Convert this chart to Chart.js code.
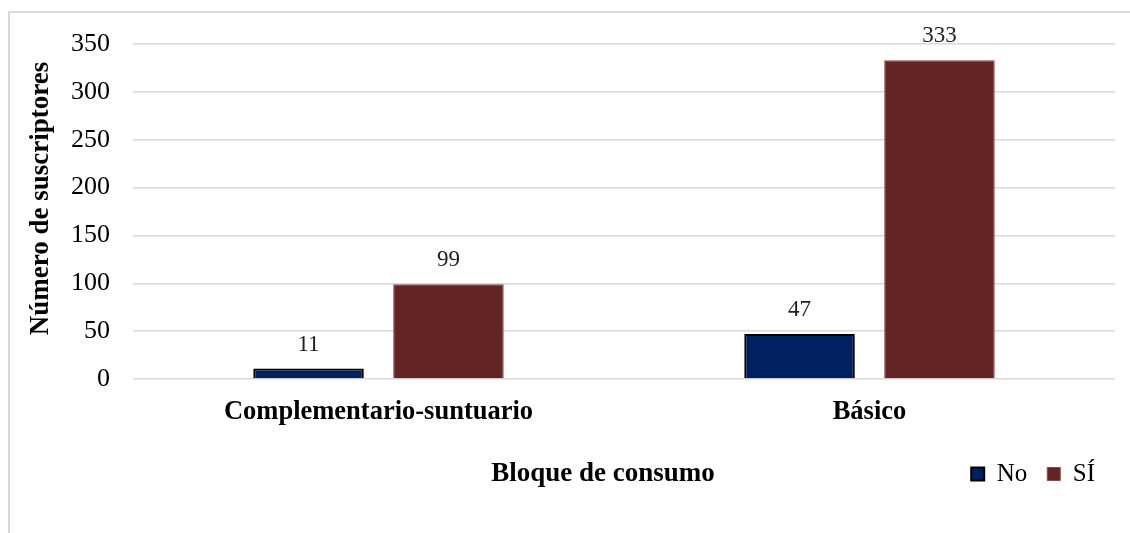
<!DOCTYPE html>
<html>
<head>
<meta charset="utf-8">
<script src="https://cdn.jsdelivr.net/npm/chart.js@4/dist/chart.umd.min.js"></script>
<style>
  html, body { margin: 0; padding: 0; background: #fff; }
  #wrap { position: relative; width: 1130px; height: 533px; overflow: hidden; }
  #frame { position: absolute; left: 8px; top: 11px; width: 1200px; height: 600px;
           border-left: 2px solid #d9d9d9; border-top: 2px solid #d9d9d9; }
  canvas { position: absolute; left: 0; top: 0; }
</style>
</head>
<body>
<div id="wrap">
  <div id="frame"></div>
  <canvas id="chart" width="1130" height="533"></canvas>
</div>
<script>
// Bloques de consumo y suscriptores por respuesta
const categories = ['Complementario-suntuario', 'Básico'];
const seriesNo = [11, 47];
const seriesSi = [99, 333];
const yTicks = [0, 50, 100, 150, 200, 250, 300, 350];

const FONT = "'Liberation Serif', 'Times New Roman', serif";
const LEGEND_SIZE = 25;

// Etiquetas de valor encima de cada barra
const valueLabels = {
  id: 'valueLabels',
  afterDatasetsDraw(chart) {
    const ctx = chart.ctx;
    ctx.save();
    ctx.font = '23px ' + FONT;
    ctx.fillStyle = '#1f1f1f';
    ctx.textAlign = 'center';
    ctx.textBaseline = 'middle';
    chart.data.datasets.forEach((ds, i) => {
      chart.getDatasetMeta(i).data.forEach((bar, j) => {
        ctx.fillText(ds.data[j], bar.x, bar.y - 24);
      });
    });
    ctx.restore();
  }
};

// Títulos de los ejes (el de X en la fila de la leyenda)
const axisTitles = {
  id: 'axisTitles',
  afterDraw(chart) {
    const ctx = chart.ctx;
    const area = chart.chartArea;
    const legend = chart.legend;
    ctx.save();
    ctx.font = 'bold 27px ' + FONT;
    ctx.fillStyle = '#000';
    ctx.textAlign = 'center';
    ctx.textBaseline = 'middle';
    const y = legend.top + legend.options.labels.padding + LEGEND_SIZE / 2;
    ctx.fillText('Bloque de consumo', (area.left + area.right) / 2 - 21, y);

    ctx.translate(41, (area.top + area.bottom) / 2 - 13);
    ctx.rotate(-Math.PI / 2);
    ctx.fillText('Número de suscriptores', 0, 0);
    ctx.restore();
  }
};

new Chart(document.getElementById('chart').getContext('2d'), {
  type: 'bar',
  data: {
    labels: categories,
    datasets: [
      {
        label: 'No',
        data: seriesNo,
        backgroundColor: '#002060',
        borderColor: '#000000',
        borderWidth: 2
      },
      {
        label: 'SÍ',
        data: seriesSi,
        backgroundColor: '#632523',
        borderColor: '#8a4a48',
        borderWidth: 1
      }
    ]
  },
  options: {
    responsive: false,
    animation: false,
    devicePixelRatio: 1,
    layout: { padding: { left: 0, right: 15, top: 44, bottom: 36.5 } },
    datasets: {
      bar: { categoryPercentage: 0.57, barPercentage: 0.79 }
    },
    plugins: {
      legend: {
        position: 'bottom',
        align: 'end',
        labels: {
          boxWidth: 13,
          boxHeight: 13,
          padding: 20,
          color: '#000',
          font: { family: FONT, size: LEGEND_SIZE }
        }
      },
      tooltip: { enabled: false }
    },
    scales: {
      x: {
        grid: { display: false, drawTicks: false },
        border: { display: false },
        ticks: {
          padding: 17,
          color: '#000',
          font: { family: FONT, size: 26.5, weight: 'bold' }
        },
        afterFit(scale) { scale.height = 62.5; }
      },
      y: {
        min: 0,
        max: 350,
        afterBuildTicks(scale) { scale.ticks = yTicks.map(v => ({ value: v })); },
        grid: { color: '#d9d9d9', lineWidth: 1.5, drawTicks: false },
        border: { display: false },
        ticks: {
          padding: 23,
          color: '#000',
          font: { family: FONT, size: 26 }
        },
        afterFit(scale) { scale.width = 133; }
      }
    }
  },
  plugins: [valueLabels, axisTitles]
});
</script>
</body>
</html>
